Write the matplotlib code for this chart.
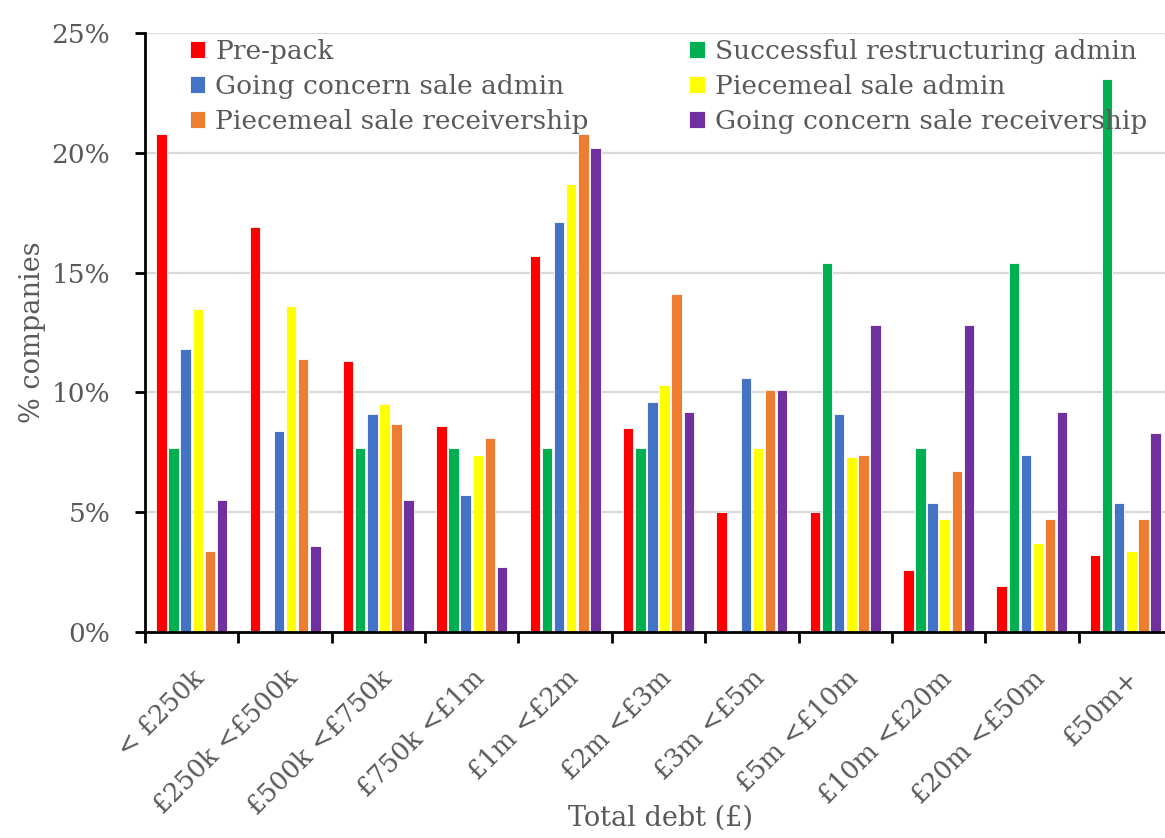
import numpy as np
import matplotlib.pyplot as plt
from matplotlib.ticker import FixedLocator, PercentFormatter

plt.rcParams['font.family'] = ['DejaVu Serif']

# debt bands and share of companies (%) for each insolvency outcome
bands = ['< £250k', '£250k <£500k', '£500k <£750k', '£750k <£1m', '£1m <£2m',
         '£2m <£3m', '£3m <£5m', '£5m <£10m', '£10m <£20m', '£20m <£50m', '£50m+']
pre_pack = [20.8, 16.9, 11.3, 8.6, 15.7, 8.5, 5.0, 5.0, 2.6, 1.9, 3.2]
restructuring_admin = [7.7, 0.0, 7.7, 7.7, 7.7, 7.7, 0.0, 15.4, 7.7, 15.4, 23.1]
going_concern_admin = [11.8, 8.4, 9.1, 5.7, 17.1, 9.6, 10.6, 9.1, 5.4, 7.4, 5.4]
piecemeal_admin = [13.5, 13.6, 9.5, 7.4, 18.7, 10.3, 7.7, 7.3, 4.7, 3.7, 3.4]
piecemeal_receivership = [3.4, 11.4, 8.7, 8.1, 20.8, 14.1, 10.1, 7.4, 6.7, 4.7, 4.7]
going_concern_receivership = [5.5, 3.6, 5.5, 2.7, 20.2, 9.2, 10.1, 12.8, 12.8, 9.2, 8.3]

series = [
    ('Pre-pack', pre_pack, '#FF0000'),
    ('Successful restructuring admin', restructuring_admin, '#00B050'),
    ('Going concern sale admin', going_concern_admin, '#4472C4'),
    ('Piecemeal sale admin', piecemeal_admin, '#FFFF00'),
    ('Piecemeal sale receivership', piecemeal_receivership, '#ED7D31'),
    ('Going concern sale receivership', going_concern_receivership, '#7030A0'),
]

grey = '#595959'
fs = 19

fig = plt.figure(figsize=(11.65, 8.38), dpi=100)
ax = fig.add_axes([145/1165, 206/838, 1027/1165, 599/838])

x = np.arange(len(bands))
slot = 0.1296
width = 0.112
handles = {}
for k, (name, vals, col) in enumerate(series):
    b = ax.bar(x + (k - 2.5) * slot, vals, width, color=col,
               edgecolor='white', linewidth=0.6, label=name, zorder=3)
    handles[name] = b

ax.set_xlim(-0.5, len(bands) - 0.5)
ax.set_ylim(0, 25)
ax.yaxis.set_major_locator(FixedLocator([0, 5, 10, 15, 20, 25]))
ax.yaxis.set_major_formatter(PercentFormatter(decimals=0))
ax.grid(axis='y', color='#d9d9d9', linewidth=1.6, zorder=0)
ax.set_axisbelow(True)

for s in ['top', 'right']:
    ax.spines[s].set_visible(False)
for s in ['left', 'bottom']:
    ax.spines[s].set_linewidth(2)
    ax.spines[s].set_color('black')
    ax.spines[s].set_zorder(5)

ax.set_xticks(x)
ax.set_xticklabels(bands, rotation=45, ha='right', va='top',
                   rotation_mode='anchor', fontsize=18.5, color=grey)
ax.xaxis.set_minor_locator(FixedLocator(np.arange(-0.5, len(bands), 1.0)))
ax.tick_params(axis='x', which='major', length=0, pad=24)
ax.tick_params(axis='x', which='minor', length=8, width=2, direction='out')
ax.tick_params(axis='y', length=7, width=2, direction='out', pad=18,
               labelsize=fs, labelcolor=grey)

ax.set_ylabel('% companies', fontsize=fs + 0.5, color=grey)
ax.set_xlabel('Total debt (£)', fontsize=fs + 0.5, color=grey)
ax.xaxis.set_label_coords((660 - 145) / 1027, -0.288)
ax.yaxis.set_label_coords((46 - 145) / 1027, 0.5)

# legend filled row by row
order = [0, 2, 4, 1, 3, 5]
names = [series[i][0] for i in order]
leg = ax.legend([handles[n] for n in names], names, ncol=2, frameon=False,
                loc='upper left', bbox_to_anchor=(34/1027, 1.008),
                fontsize=fs, handlelength=0.6, handleheight=0.6,
                handletextpad=0.38, columnspacing=3.8, labelspacing=0.38,
                borderaxespad=0)
for t in leg.get_texts():
    t.set_color(grey)

fig.savefig('out.png', dpi=100)
